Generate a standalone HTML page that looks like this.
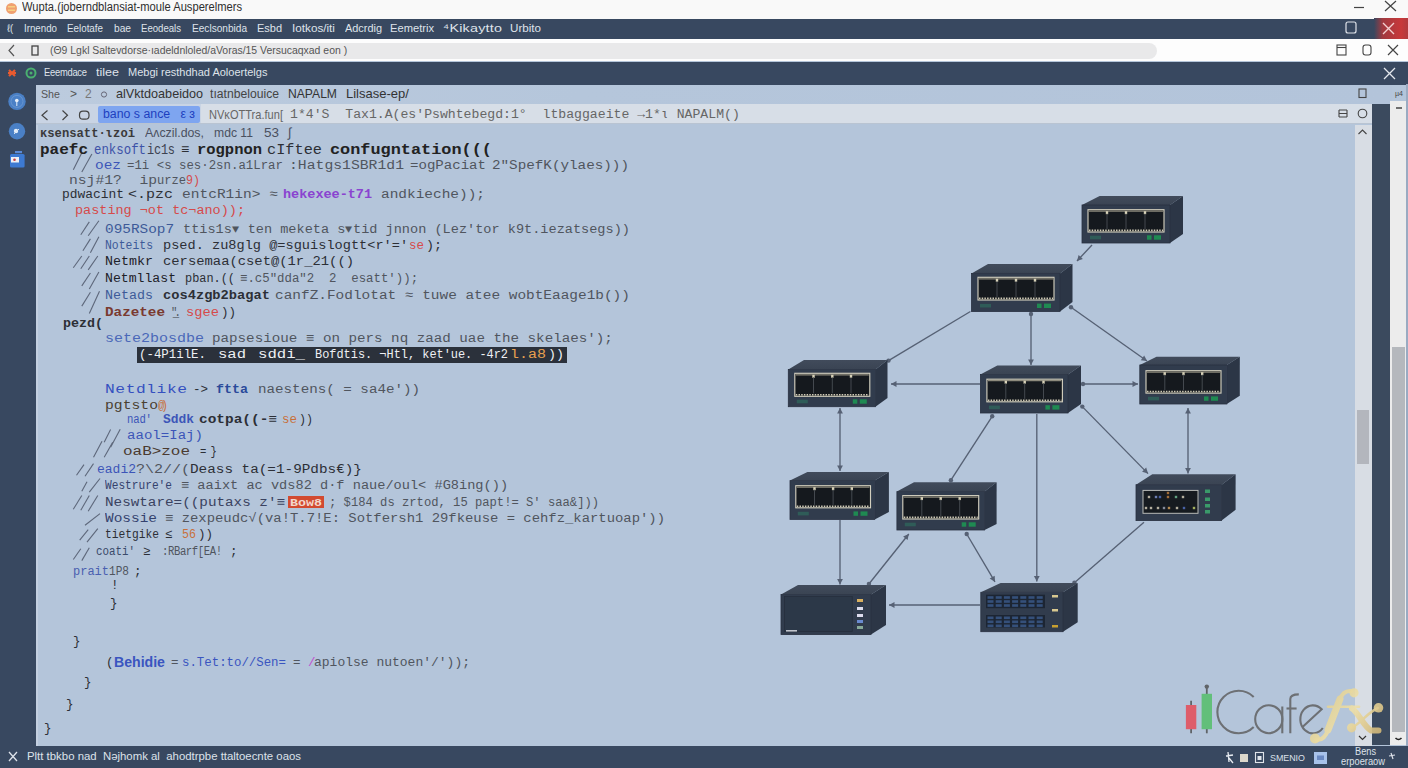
<!DOCTYPE html>
<html><head><meta charset="utf-8">
<style>
*{margin:0;padding:0;box-sizing:border-box}
html,body{width:1408px;height:768px;overflow:hidden;background:#b4c5da;font-family:"Liberation Sans",sans-serif}
.a{position:absolute}
.t{position:absolute;white-space:pre;line-height:1}
#title{left:0;top:0;width:1408px;height:19px;background:#f9f9f9}
#menu{left:0;top:19px;width:1408px;height:20px;background:#384860}
#addr{left:0;top:39px;width:1408px;height:22px;background:#fdfdfd}
#pill{left:0;top:43px;width:1157px;height:16px;background:#e9e9ea;border-radius:0 8px 8px 0}
#dark2{left:0;top:62px;width:1408px;height:23px;background:#384860}
#side{left:0;top:84px;width:36px;height:662px;background:#384860}
#crumb{left:36px;top:85px;width:1356px;height:19px;background:linear-gradient(90deg,#bccbde,#b5c6db 40%,#b3c4da)}
#tabs{left:36px;top:104px;width:1336px;height:20px;background:#d7dee7;border-bottom:1px solid #b9c4d2}
#tabsL{left:36px;top:104px;width:165px;height:19px;background:#c9d4e4}
#tab1{left:98px;top:105.5px;width:102px;height:17.5px;background:#7ea5f0;border-radius:2px}
#editor{left:36px;top:124px;width:1319px;height:622px;background:#b4c5da}
#trackL{left:1355px;top:125px;width:17px;height:621px;background:#d8dde4}
#thumbL{left:1357px;top:410px;width:12px;height:54px;background:#b3b6bd}
#band{left:1372px;top:104px;width:18px;height:641px;background:#3b4a5e}
#trackR{left:1390px;top:101px;width:16px;height:644px;background:#ececec}
#thumbR{left:1392px;top:347px;width:13px;height:385px;background:#b5b8bd}
#edgeR{left:1406px;top:84px;width:2px;height:662px;background:#9aabc2}
#status{left:0;top:746px;width:1408px;height:22px;background:#384860}
#ledge{left:36px;top:125px;width:2px;height:621px;background:#c3cfe0}
#hl{left:137px;top:347px;width:430px;height:16px;background:#2b313b}
#redbox{left:288px;top:496px;width:36px;height:12px;background:#d24a30}
svg{position:absolute;left:0;top:0}
</style></head><body>
<div id="title" class="a"></div>
<div id="menu" class="a"></div>
<div id="addr" class="a"></div>
<div id="pill" class="a"></div>
<div id="dark2" class="a"></div>
<div id="side" class="a"></div>
<div id="crumb" class="a"></div>
<div id="tabs" class="a"></div>
<div id="tabsL" class="a"></div>
<div id="tab1" class="a"></div>
<div id="editor" class="a"></div>
<div id="trackL" class="a"></div>
<div id="thumbL" class="a"></div>
<div id="band" class="a"></div>
<div id="trackR" class="a"></div>
<div id="thumbR" class="a"></div>
<div id="edgeR" class="a"></div>
<div id="status" class="a"></div>
<div id="ledge" class="a"></div>
<div id="hl" class="a"></div>
<div id="redbox" class="a"></div>
<svg width="1408" height="768" viewBox="0 0 1408 768">
<defs><linearGradient id="gold" gradientUnits="userSpaceOnUse" x1="1310" y1="688" x2="1385" y2="745"><stop offset="0" stop-color="#d8c483"/><stop offset="0.5" stop-color="#efe0a8"/><stop offset="1" stop-color="#c8aa68"/></linearGradient><linearGradient id="topf" x1="0" y1="0" x2="0" y2="1"><stop offset="0" stop-color="#414b5b"/><stop offset="1" stop-color="#3a4453"/></linearGradient></defs>
<line x1="73.3" y1="169.8" x2="81.8" y2="152.8" stroke="#5d677a" stroke-width="1.1"/>
<line x1="81.8" y1="172" x2="91.9" y2="153.9" stroke="#5d677a" stroke-width="1.1"/>
<line x1="80.8" y1="234.7" x2="89.3" y2="221.9" stroke="#5d677a" stroke-width="1.1"/>
<line x1="88.2" y1="235.7" x2="98.9" y2="220.8" stroke="#5d677a" stroke-width="1.1"/>
<line x1="82.9" y1="250.7" x2="90.4" y2="238.9" stroke="#5d677a" stroke-width="1.1"/>
<line x1="90.4" y1="252.8" x2="98.9" y2="236.8" stroke="#5d677a" stroke-width="1.1"/>
<line x1="73.3" y1="267.7" x2="81.8" y2="256" stroke="#5d677a" stroke-width="1.1"/>
<line x1="80.8" y1="268.8" x2="89.3" y2="256" stroke="#5d677a" stroke-width="1.1"/>
<line x1="88.2" y1="269.9" x2="97.8" y2="256" stroke="#5d677a" stroke-width="1.1"/>
<line x1="81.8" y1="285.9" x2="90.4" y2="273" stroke="#5d677a" stroke-width="1.1"/>
<line x1="89.3" y1="289.1" x2="98.9" y2="272" stroke="#5d677a" stroke-width="1.1"/>
<line x1="81.8" y1="306.1" x2="90.4" y2="292.3" stroke="#5d677a" stroke-width="1.1"/>
<line x1="89.3" y1="313.5" x2="99.5" y2="291.2" stroke="#5d677a" stroke-width="1.1"/>
<line x1="104.2" y1="442.2" x2="110.6" y2="429.5" stroke="#5d677a" stroke-width="1.1"/>
<line x1="110.6" y1="447.2" x2="120.2" y2="429.2" stroke="#5d677a" stroke-width="1.1"/>
<line x1="93.5" y1="457.2" x2="102" y2="441.2" stroke="#5d677a" stroke-width="1.1"/>
<line x1="104.2" y1="457.2" x2="112.7" y2="442.2" stroke="#5d677a" stroke-width="1.1"/>
<line x1="76.5" y1="475.2" x2="84" y2="464.6" stroke="#5d677a" stroke-width="1.1"/>
<line x1="85" y1="476.2" x2="93.5" y2="463.6" stroke="#5d677a" stroke-width="1.1"/>
<line x1="81.8" y1="491.2" x2="87" y2="481.7" stroke="#5d677a" stroke-width="1.1"/>
<line x1="89.3" y1="492.2" x2="100" y2="478.5" stroke="#5d677a" stroke-width="1.1"/>
<line x1="73.3" y1="509.2" x2="81.8" y2="495.5" stroke="#5d677a" stroke-width="1.1"/>
<line x1="80.8" y1="510.2" x2="89.3" y2="495.5" stroke="#5d677a" stroke-width="1.1"/>
<line x1="88.2" y1="511.2" x2="97.8" y2="495.5" stroke="#5d677a" stroke-width="1.1"/>
<line x1="85" y1="525.2" x2="100" y2="513.6" stroke="#5d677a" stroke-width="1.1"/>
<line x1="79.7" y1="540.2" x2="88.2" y2="529.6" stroke="#5d677a" stroke-width="1.1"/>
<line x1="87" y1="542.2" x2="97.8" y2="528.6" stroke="#5d677a" stroke-width="1.1"/>
<line x1="73.3" y1="559.5" x2="80.8" y2="548.8" stroke="#5d677a" stroke-width="1.1"/>
<line x1="81.8" y1="560.6" x2="89.3" y2="547.8" stroke="#5d677a" stroke-width="1.1"/>
<line x1="1092" y1="245" x2="1077" y2="261" stroke="#566174" stroke-width="1.35"/>
<polygon points="1077.0,261.0 1078.6,255.0 1082.9,259.0" fill="#566174"/>
<line x1="970.4" y1="311.5" x2="888.5" y2="360.6" stroke="#566174" stroke-width="1.35"/>
<circle cx="888.5" cy="360.6" r="2.2" fill="#566174"/>
<line x1="1031" y1="314" x2="1031" y2="365" stroke="#566174" stroke-width="1.35"/>
<polygon points="1031.0,365.0 1028.1,359.5 1033.9,359.5" fill="#566174"/>
<circle cx="1031" cy="314" r="2.2" fill="#566174"/>
<line x1="1071" y1="307.3" x2="1147" y2="361" stroke="#566174" stroke-width="1.35"/>
<polygon points="1147.0,361.0 1140.8,360.2 1144.2,355.5" fill="#566174"/>
<circle cx="1071" cy="307.3" r="2.2" fill="#566174"/>
<line x1="980" y1="384" x2="891" y2="384" stroke="#566174" stroke-width="1.35"/>
<polygon points="891.0,384.0 896.5,381.1 896.5,386.9" fill="#566174"/>
<line x1="1083" y1="384" x2="1138" y2="384" stroke="#566174" stroke-width="1.35"/>
<polygon points="1138.0,384.0 1132.5,386.9 1132.5,381.1" fill="#566174"/>
<circle cx="1083" cy="384" r="2.2" fill="#566174"/>
<line x1="840" y1="408" x2="840" y2="471" stroke="#566174" stroke-width="1.35"/>
<polygon points="840.0,471.0 837.1,465.5 842.9,465.5" fill="#566174"/>
<polygon points="840.0,408.0 842.9,413.5 837.1,413.5" fill="#566174"/>
<line x1="992.2" y1="416.3" x2="950.9" y2="480.2" stroke="#566174" stroke-width="1.35"/>
<circle cx="992.2" cy="416.3" r="2.2" fill="#566174"/>
<circle cx="950.9" cy="480.2" r="2.2" fill="#566174"/>
<line x1="1036.8" y1="414" x2="1036.8" y2="581.5" stroke="#566174" stroke-width="1.35"/>
<polygon points="1036.8,581.5 1033.9,576.0 1039.7,576.0" fill="#566174"/>
<line x1="1082.3" y1="406.6" x2="1148" y2="473.6" stroke="#566174" stroke-width="1.35"/>
<polygon points="1148.0,473.6 1142.1,471.7 1146.2,467.6" fill="#566174"/>
<circle cx="1082.3" cy="406.6" r="2.2" fill="#566174"/>
<line x1="1188" y1="408" x2="1188" y2="473.5" stroke="#566174" stroke-width="1.35"/>
<polygon points="1188.0,473.5 1185.1,468.0 1190.9,468.0" fill="#566174"/>
<polygon points="1188.0,408.0 1190.9,413.5 1185.1,413.5" fill="#566174"/>
<line x1="840" y1="520" x2="840" y2="584.5" stroke="#566174" stroke-width="1.35"/>
<polygon points="840.0,584.5 837.1,579.0 842.9,579.0" fill="#566174"/>
<line x1="908.8" y1="534" x2="868.9" y2="584" stroke="#566174" stroke-width="1.35"/>
<polygon points="908.8,534.0 907.6,540.1 903.1,536.5" fill="#566174"/>
<circle cx="868.9" cy="584" r="2.2" fill="#566174"/>
<line x1="966.7" y1="534" x2="995" y2="581.9" stroke="#566174" stroke-width="1.35"/>
<polygon points="995.0,581.9 989.7,578.6 994.7,575.7" fill="#566174"/>
<circle cx="966.7" cy="534" r="2.2" fill="#566174"/>
<line x1="1144" y1="522.2" x2="1074.4" y2="582.7" stroke="#566174" stroke-width="1.35"/>
<circle cx="1074.4" cy="582.7" r="2.2" fill="#566174"/>
<line x1="980" y1="605" x2="889" y2="605" stroke="#566174" stroke-width="1.35"/>
<polygon points="889.0,605.0 894.5,602.1 894.5,607.9" fill="#566174"/>
<polygon points="1082,205 1099.6,196 1183,196 1170,205" fill="url(#topf)"/>
<polygon points="1170,205 1183,196 1183,234 1170,243" fill="#2c3646"/>
<rect x="1082" y="205" width="88.0" height="38.0" fill="#313c4d" stroke="#283040" stroke-width="0.8"/>
<rect x="1088" y="209.7" width="76.0" height="22.3" fill="#15191e" stroke="#d2cebe" stroke-width="1.15"/>
<line x1="1089" y1="230.4" x2="1163" y2="230.4" stroke="#cfcab6" stroke-width="1.6" stroke-dasharray="1.5 1.2"/>
<line x1="1089" y1="211.2" x2="1163" y2="211.2" stroke="#8d8a7c" stroke-width="1.2"/>
<rect x="1105.8" y="211.2" width="2.4" height="3" fill="#d8d2b8"/>
<line x1="1107.0" y1="213.7" x2="1107.0" y2="229" stroke="#4a4f55" stroke-width="0.9"/>
<rect x="1124.8" y="211.2" width="2.4" height="3" fill="#d8d2b8"/>
<line x1="1126.0" y1="213.7" x2="1126.0" y2="229" stroke="#4a4f55" stroke-width="0.9"/>
<rect x="1143.8" y="211.2" width="2.4" height="3" fill="#d8d2b8"/>
<line x1="1145.0" y1="213.7" x2="1145.0" y2="229" stroke="#4a4f55" stroke-width="0.9"/>
<rect x="1090.0" y="235.7" width="11" height="3.6" fill="#2f6a5c" opacity="0.7"/>
<rect x="1147.0" y="235.3" width="4.5" height="4.4" fill="#1f8a52"/>
<rect x="1154.0" y="235.3" width="7" height="4.4" fill="#1f8a52"/>
<polygon points="971.5,273.4 988,264 1072.5,264 1060,273.4" fill="url(#topf)"/>
<polygon points="1060,273.4 1072.5,264 1072.5,302 1060,311.5" fill="#2c3646"/>
<rect x="971.5" y="273.4" width="88.5" height="38.1" fill="#313c4d" stroke="#283040" stroke-width="0.8"/>
<rect x="978" y="277.3" width="76.0" height="22.7" fill="#15191e" stroke="#d2cebe" stroke-width="1.15"/>
<line x1="979" y1="298.4" x2="1053" y2="298.4" stroke="#cfcab6" stroke-width="1.6" stroke-dasharray="1.5 1.2"/>
<line x1="979" y1="278.8" x2="1053" y2="278.8" stroke="#8d8a7c" stroke-width="1.2"/>
<rect x="995.8" y="278.8" width="2.4" height="3" fill="#d8d2b8"/>
<line x1="997.0" y1="281.3" x2="997.0" y2="297" stroke="#4a4f55" stroke-width="0.9"/>
<rect x="1014.8" y="278.8" width="2.4" height="3" fill="#d8d2b8"/>
<line x1="1016.0" y1="281.3" x2="1016.0" y2="297" stroke="#4a4f55" stroke-width="0.9"/>
<rect x="1033.8" y="278.8" width="2.4" height="3" fill="#d8d2b8"/>
<line x1="1035.0" y1="281.3" x2="1035.0" y2="297" stroke="#4a4f55" stroke-width="0.9"/>
<rect x="980.0" y="303.9" width="11" height="3.6" fill="#2f6a5c" opacity="0.7"/>
<rect x="1037.0" y="303.6" width="4.5" height="4.4" fill="#1f8a52"/>
<rect x="1044.0" y="303.6" width="7" height="4.4" fill="#1f8a52"/>
<polygon points="788.3,369.5 804,360 887.5,360 875.5,369.5" fill="url(#topf)"/>
<polygon points="875.5,369.5 887.5,360 887.5,398 875.5,406.7" fill="#2c3646"/>
<rect x="788.3" y="369.5" width="87.2" height="37.2" fill="#313c4d" stroke="#283040" stroke-width="0.8"/>
<rect x="794.8" y="373.3" width="75.0" height="23.0" fill="#15191e" stroke="#d2cebe" stroke-width="1.15"/>
<line x1="795.8" y1="394.7" x2="868.8" y2="394.7" stroke="#cfcab6" stroke-width="1.6" stroke-dasharray="1.5 1.2"/>
<line x1="795.8" y1="374.8" x2="868.8" y2="374.8" stroke="#8d8a7c" stroke-width="1.2"/>
<rect x="812.3" y="374.8" width="2.4" height="3" fill="#d8d2b8"/>
<line x1="813.5" y1="377.3" x2="813.5" y2="393.3" stroke="#4a4f55" stroke-width="0.9"/>
<rect x="831.1" y="374.8" width="2.4" height="3" fill="#d8d2b8"/>
<line x1="832.3" y1="377.3" x2="832.3" y2="393.3" stroke="#4a4f55" stroke-width="0.9"/>
<rect x="849.8" y="374.8" width="2.4" height="3" fill="#d8d2b8"/>
<line x1="851.0" y1="377.3" x2="851.0" y2="393.3" stroke="#4a4f55" stroke-width="0.9"/>
<rect x="796.8" y="399.7" width="11" height="3.6" fill="#2f6a5c" opacity="0.7"/>
<rect x="852.8" y="399.3" width="4.5" height="4.4" fill="#1f8a52"/>
<rect x="859.8" y="399.3" width="7" height="4.4" fill="#1f8a52"/>
<polygon points="980.4,374.5 997.3,365.4 1081,365.4 1068,374.5" fill="url(#topf)"/>
<polygon points="1068,374.5 1081,365.4 1081,404 1068,413" fill="#2c3646"/>
<rect x="980.4" y="374.5" width="87.6" height="38.5" fill="#313c4d" stroke="#283040" stroke-width="0.8"/>
<rect x="986.9" y="379.2" width="75.5" height="22.6" fill="#15191e" stroke="#d2cebe" stroke-width="1.15"/>
<line x1="987.9" y1="400.2" x2="1061.4" y2="400.2" stroke="#cfcab6" stroke-width="1.6" stroke-dasharray="1.5 1.2"/>
<line x1="987.9" y1="380.7" x2="1061.4" y2="380.7" stroke="#8d8a7c" stroke-width="1.2"/>
<rect x="1004.6" y="380.7" width="2.4" height="3" fill="#d8d2b8"/>
<line x1="1005.8" y1="383.2" x2="1005.8" y2="398.8" stroke="#4a4f55" stroke-width="0.9"/>
<rect x="1023.5" y="380.7" width="2.4" height="3" fill="#d8d2b8"/>
<line x1="1024.7" y1="383.2" x2="1024.7" y2="398.8" stroke="#4a4f55" stroke-width="0.9"/>
<rect x="1042.3" y="380.7" width="2.4" height="3" fill="#d8d2b8"/>
<line x1="1043.5" y1="383.2" x2="1043.5" y2="398.8" stroke="#4a4f55" stroke-width="0.9"/>
<rect x="988.9" y="405.6" width="11" height="3.6" fill="#2f6a5c" opacity="0.7"/>
<rect x="1045.4" y="405.2" width="4.5" height="4.4" fill="#1f8a52"/>
<rect x="1052.4" y="405.2" width="7" height="4.4" fill="#1f8a52"/>
<polygon points="1139.8,365 1156.5,356.7 1239.8,356.7 1226.8,365" fill="url(#topf)"/>
<polygon points="1226.8,365 1239.8,356.7 1239.8,395.7 1226.8,404" fill="#2c3646"/>
<rect x="1139.8" y="365" width="87.0" height="39.0" fill="#313c4d" stroke="#283040" stroke-width="0.8"/>
<rect x="1146" y="370.7" width="75.0" height="22.4" fill="#15191e" stroke="#d2cebe" stroke-width="1.15"/>
<line x1="1147" y1="391.5" x2="1220" y2="391.5" stroke="#cfcab6" stroke-width="1.6" stroke-dasharray="1.5 1.2"/>
<line x1="1147" y1="372.2" x2="1220" y2="372.2" stroke="#8d8a7c" stroke-width="1.2"/>
<rect x="1163.5" y="372.2" width="2.4" height="3" fill="#d8d2b8"/>
<line x1="1164.8" y1="374.7" x2="1164.8" y2="390.1" stroke="#4a4f55" stroke-width="0.9"/>
<rect x="1182.3" y="372.2" width="2.4" height="3" fill="#d8d2b8"/>
<line x1="1183.5" y1="374.7" x2="1183.5" y2="390.1" stroke="#4a4f55" stroke-width="0.9"/>
<rect x="1201.0" y="372.2" width="2.4" height="3" fill="#d8d2b8"/>
<line x1="1202.2" y1="374.7" x2="1202.2" y2="390.1" stroke="#4a4f55" stroke-width="0.9"/>
<rect x="1148.0" y="396.8" width="11" height="3.6" fill="#2f6a5c" opacity="0.7"/>
<rect x="1204.0" y="396.4" width="4.5" height="4.4" fill="#1f8a52"/>
<rect x="1211.0" y="396.4" width="7" height="4.4" fill="#1f8a52"/>
<polygon points="790,480.6 807.4,472 888.9,472 874.7,480.6" fill="url(#topf)"/>
<polygon points="874.7,480.6 888.9,472 888.9,512 874.7,519.4" fill="#2c3646"/>
<rect x="790" y="480.6" width="84.7" height="38.8" fill="#313c4d" stroke="#283040" stroke-width="0.8"/>
<rect x="795.8" y="485.7" width="74.7" height="22.1" fill="#15191e" stroke="#d2cebe" stroke-width="1.15"/>
<line x1="796.8" y1="506.2" x2="869.5" y2="506.2" stroke="#cfcab6" stroke-width="1.6" stroke-dasharray="1.5 1.2"/>
<line x1="796.8" y1="487.2" x2="869.5" y2="487.2" stroke="#8d8a7c" stroke-width="1.2"/>
<rect x="813.3" y="487.2" width="2.4" height="3" fill="#d8d2b8"/>
<line x1="814.5" y1="489.7" x2="814.5" y2="504.8" stroke="#4a4f55" stroke-width="0.9"/>
<rect x="831.9" y="487.2" width="2.4" height="3" fill="#d8d2b8"/>
<line x1="833.1" y1="489.7" x2="833.1" y2="504.8" stroke="#4a4f55" stroke-width="0.9"/>
<rect x="850.6" y="487.2" width="2.4" height="3" fill="#d8d2b8"/>
<line x1="851.8" y1="489.7" x2="851.8" y2="504.8" stroke="#4a4f55" stroke-width="0.9"/>
<rect x="797.8" y="511.8" width="11" height="3.6" fill="#2f6a5c" opacity="0.7"/>
<rect x="853.5" y="511.4" width="4.5" height="4.4" fill="#1f8a52"/>
<rect x="860.5" y="511.4" width="7" height="4.4" fill="#1f8a52"/>
<polygon points="896.9,491.6 914,482.3 996.6,482.3 984.6,491.6" fill="url(#topf)"/>
<polygon points="984.6,491.6 996.6,482.3 996.6,524 984.6,530" fill="#2c3646"/>
<rect x="896.9" y="491.6" width="87.7" height="38.4" fill="#313c4d" stroke="#283040" stroke-width="0.8"/>
<rect x="902.8" y="495.6" width="75.9" height="23.4" fill="#15191e" stroke="#d2cebe" stroke-width="1.15"/>
<line x1="903.8" y1="517.4" x2="977.7" y2="517.4" stroke="#cfcab6" stroke-width="1.6" stroke-dasharray="1.5 1.2"/>
<line x1="903.8" y1="497.1" x2="977.7" y2="497.1" stroke="#8d8a7c" stroke-width="1.2"/>
<rect x="920.6" y="497.1" width="2.4" height="3" fill="#d8d2b8"/>
<line x1="921.8" y1="499.6" x2="921.8" y2="516" stroke="#4a4f55" stroke-width="0.9"/>
<rect x="939.5" y="497.1" width="2.4" height="3" fill="#d8d2b8"/>
<line x1="940.8" y1="499.6" x2="940.8" y2="516" stroke="#4a4f55" stroke-width="0.9"/>
<rect x="958.5" y="497.1" width="2.4" height="3" fill="#d8d2b8"/>
<line x1="959.7" y1="499.6" x2="959.7" y2="516" stroke="#4a4f55" stroke-width="0.9"/>
<rect x="904.8" y="522.7" width="11" height="3.6" fill="#2f6a5c" opacity="0.7"/>
<rect x="961.7" y="522.3" width="4.5" height="4.4" fill="#1f8a52"/>
<rect x="968.7" y="522.3" width="7" height="4.4" fill="#1f8a52"/>
<polygon points="1136,484.7 1152.3,474.3 1235.6,474.3 1221.6,484.7" fill="url(#topf)"/>
<polygon points="1221.6,484.7 1235.6,474.3 1235.6,509.7 1221.6,520.6" fill="#2c3646"/>
<rect x="1136" y="484.7" width="85.6" height="35.9" fill="#313c4d" stroke="#283040" stroke-width="0.8"/>
<rect x="1143" y="490.4" width="55" height="22.9" fill="#161b20" stroke="#b9bcb8" stroke-width="1"/>
<rect x="1147.8" y="495.8" width="2.4" height="2.4" fill="#e8e0c8" opacity="0.75"/>
<rect x="1154.8" y="495.8" width="2.4" height="2.4" fill="#8aa0e0" opacity="0.75"/>
<rect x="1158.8" y="495.8" width="2.4" height="2.4" fill="#5a7ad0" opacity="0.75"/>
<rect x="1166.8" y="491.8" width="2.4" height="2.4" fill="#d08a40" opacity="0.75"/>
<rect x="1166.8" y="495.8" width="2.4" height="2.4" fill="#d08a40" opacity="0.75"/>
<rect x="1174.8" y="495.8" width="2.4" height="2.4" fill="#7ad0a0" opacity="0.75"/>
<rect x="1181.8" y="495.8" width="2.4" height="2.4" fill="#e8e0c8" opacity="0.75"/>
<rect x="1144.8" y="506.8" width="2.4" height="2.4" fill="#e8e0c8" opacity="0.75"/>
<rect x="1149.8" y="506.8" width="2.4" height="2.4" fill="#e8e0c8" opacity="0.75"/>
<rect x="1156.8" y="506.8" width="2.4" height="2.4" fill="#e8e0c8" opacity="0.75"/>
<rect x="1162.8" y="506.8" width="2.4" height="2.4" fill="#aab0c0" opacity="0.75"/>
<rect x="1167.8" y="506.8" width="2.4" height="2.4" fill="#e8b060" opacity="0.75"/>
<rect x="1175.8" y="506.8" width="2.4" height="2.4" fill="#e8e0c8" opacity="0.75"/>
<rect x="1182.8" y="506.8" width="2.4" height="2.4" fill="#5a7ad0" opacity="0.75"/>
<rect x="1192.8" y="506.8" width="2.4" height="2.4" fill="#d0e070" opacity="0.75"/>
<rect x="1205" y="489.5" width="5" height="3.5" fill="#3a9a6a"/>
<rect x="1205" y="497.5" width="5" height="3.5" fill="#3a9a6a"/>
<rect x="1205" y="504" width="5" height="3.5" fill="#3a9a6a"/>
<rect x="1205" y="510" width="5" height="3.5" fill="#3a9a6a"/>
<polygon points="781,594.5 798,585 886,585 871,594.5" fill="url(#topf)"/>
<polygon points="871,594.5 886,585 886,625 871,634.6" fill="#2c3646"/>
<rect x="781" y="594.5" width="90.0" height="40.1" fill="#313c4d" stroke="#283040" stroke-width="0.8"/>
<rect x="784.6" y="596.6" width="67.7" height="35" fill="#2c3848" stroke="#262f3c" stroke-width="0.8"/>
<rect x="786" y="630" width="11" height="1.6" fill="#c0c4cc"/>
<rect x="857" y="599" width="6" height="3" fill="#d8b060"/>
<rect x="857" y="607" width="6" height="3" fill="#dde"/>
<rect x="857" y="614" width="6" height="3" fill="#dde"/>
<rect x="857" y="620" width="6" height="3" fill="#6a8ad0"/>
<rect x="857" y="626" width="6" height="3" fill="#8a9"/>
<polygon points="980.8,592.3 1000.6,583 1077.7,583 1063,592.3" fill="url(#topf)"/>
<polygon points="1063,592.3 1077.7,583 1077.7,622.3 1063,631.7" fill="#2c3646"/>
<rect x="980.8" y="592.3" width="82.2" height="39.4" fill="#313c4d" stroke="#283040" stroke-width="0.8"/>
<rect x="986" y="594.7" width="59" height="13.5" fill="#1c2533"/>
<rect x="987.5" y="596.2" width="6" height="2.6" fill="#35507a"/>
<rect x="987.5" y="600.2" width="6" height="2.6" fill="#35507a"/>
<rect x="987.5" y="604.2" width="6" height="2.6" fill="#35507a"/>
<rect x="995.7" y="596.2" width="6" height="2.6" fill="#35507a"/>
<rect x="995.7" y="600.2" width="6" height="2.6" fill="#35507a"/>
<rect x="995.7" y="604.2" width="6" height="2.6" fill="#35507a"/>
<rect x="1003.9" y="596.2" width="6" height="2.6" fill="#35507a"/>
<rect x="1003.9" y="600.2" width="6" height="2.6" fill="#35507a"/>
<rect x="1003.9" y="604.2" width="6" height="2.6" fill="#35507a"/>
<rect x="1012.1" y="596.2" width="6" height="2.6" fill="#35507a"/>
<rect x="1012.1" y="600.2" width="6" height="2.6" fill="#35507a"/>
<rect x="1012.1" y="604.2" width="6" height="2.6" fill="#35507a"/>
<rect x="1020.3" y="596.2" width="6" height="2.6" fill="#35507a"/>
<rect x="1020.3" y="600.2" width="6" height="2.6" fill="#35507a"/>
<rect x="1020.3" y="604.2" width="6" height="2.6" fill="#35507a"/>
<rect x="1028.5" y="596.2" width="6" height="2.6" fill="#35507a"/>
<rect x="1028.5" y="600.2" width="6" height="2.6" fill="#35507a"/>
<rect x="1028.5" y="604.2" width="6" height="2.6" fill="#35507a"/>
<rect x="1036.7" y="596.2" width="6" height="2.6" fill="#35507a"/>
<rect x="1036.7" y="600.2" width="6" height="2.6" fill="#35507a"/>
<rect x="1036.7" y="604.2" width="6" height="2.6" fill="#35507a"/>
<rect x="986" y="615" width="59" height="12.5" fill="#1c2533"/>
<rect x="987.5" y="616.5" width="6" height="2.6" fill="#35507a"/>
<rect x="987.5" y="620.5" width="6" height="2.6" fill="#35507a"/>
<rect x="987.5" y="624.5" width="6" height="2.6" fill="#35507a"/>
<rect x="995.7" y="616.5" width="6" height="2.6" fill="#35507a"/>
<rect x="995.7" y="620.5" width="6" height="2.6" fill="#35507a"/>
<rect x="995.7" y="624.5" width="6" height="2.6" fill="#35507a"/>
<rect x="1003.9" y="616.5" width="6" height="2.6" fill="#35507a"/>
<rect x="1003.9" y="620.5" width="6" height="2.6" fill="#35507a"/>
<rect x="1003.9" y="624.5" width="6" height="2.6" fill="#35507a"/>
<rect x="1012.1" y="616.5" width="6" height="2.6" fill="#35507a"/>
<rect x="1012.1" y="620.5" width="6" height="2.6" fill="#35507a"/>
<rect x="1012.1" y="624.5" width="6" height="2.6" fill="#35507a"/>
<rect x="1020.3" y="616.5" width="6" height="2.6" fill="#35507a"/>
<rect x="1020.3" y="620.5" width="6" height="2.6" fill="#35507a"/>
<rect x="1020.3" y="624.5" width="6" height="2.6" fill="#35507a"/>
<rect x="1028.5" y="616.5" width="6" height="2.6" fill="#35507a"/>
<rect x="1028.5" y="620.5" width="6" height="2.6" fill="#35507a"/>
<rect x="1028.5" y="624.5" width="6" height="2.6" fill="#35507a"/>
<rect x="1036.7" y="616.5" width="6" height="2.6" fill="#35507a"/>
<rect x="1036.7" y="620.5" width="6" height="2.6" fill="#35507a"/>
<rect x="1036.7" y="624.5" width="6" height="2.6" fill="#35507a"/>
<rect x="1052" y="595" width="6" height="2.5" fill="#d8c890"/>
<rect x="1052" y="609" width="6" height="2.5" fill="#d8c890"/>
<rect x="1052" y="625" width="6" height="2.5" fill="#c8a030"/>
<line x1="1191.1" y1="700.8" x2="1191.1" y2="733.3" stroke="#606468" stroke-width="1.8"/>
<rect x="1185.9" y="705" width="10.4" height="24.2" fill="#de5d6a"/>
<line x1="1206.8" y1="688" x2="1206.8" y2="733.3" stroke="#606468" stroke-width="1.8"/>
<circle cx="1206.8" cy="686.6" r="2.2" fill="#606468"/>
<rect x="1201.6" y="693.8" width="10.4" height="35.4" fill="#62bf7a"/>
<path d="M1253.7,696.9 A21.3,21.3 0 1 0 1253.7,727.1" fill="none" stroke="#6d7074" stroke-width="2.1"/>
<ellipse cx="1268.8" cy="719.2" rx="13.6" ry="14" fill="none" stroke="#6d7074" stroke-width="2.1"/>
<line x1="1282.3" y1="706.5" x2="1282.3" y2="733.3" stroke="#6d7074" stroke-width="2.1"/>
<path d="M1290.3,733.3 L1290.3,699 Q1290.3,694.4 1298.8,694.4" fill="none" stroke="#6d7074" stroke-width="2.1"/>
<line x1="1286.5" y1="708.5" x2="1296.6" y2="708.5" stroke="#6d7074" stroke-width="2.1"/>
<path d="M1302.5,726.9 L1321.7,709.3 A12.6,14 0 1 0 1322.8,728" fill="none" stroke="#6d7074" stroke-width="2.1"/>
<g opacity="0.9" fill="none" stroke="url(#gold)" stroke-linecap="round"><path d="M1316,739.5 C1322,741 1326,736 1328.5,729" stroke-width="4"/><path d="M1328,730 L1340,699" stroke-width="7"/><path d="M1339.5,700 C1342,693 1346,690.5 1351,691" stroke-width="4"/><path d="M1328,706.8 L1359,706.8" stroke-width="2.6"/><path d="M1352,708.5 C1358,712 1364,727 1371,730.5 L1378.5,730.5" stroke-width="6"/><path d="M1378,708 C1368,712 1360,724 1351.5,728" stroke-width="2.5"/></g>
<g opacity="0.9" fill="url(#gold)"><circle cx="1354" cy="692.8" r="4.6"/><circle cx="1315" cy="738.5" r="5"/><circle cx="1378.5" cy="707.8" r="4.8"/><circle cx="1351.6" cy="727.8" r="4.6"/></g>
<circle cx="11.5" cy="8.5" r="5.5" fill="#f0a070"/><rect x="8" y="6" width="7" height="1.5" fill="#f6d080"/><rect x="8" y="9.5" width="7" height="1.5" fill="#f6d080"/>
<line x1="1354" y1="7.5" x2="1364" y2="7.5" stroke="#444" stroke-width="1.2"/>
<path d="M1385,1 L1396,11 M1396,1 L1385,11" stroke="#444" stroke-width="1.2"/>
<rect x="1346" y="22" width="10" height="11" rx="2" fill="none" stroke="#dfe3ea" stroke-width="1.2"/>
<rect x="1374" y="18" width="34" height="21" fill="url(#redg)"/>
<defs><linearGradient id="redg" x1="0" x2="1"><stop offset="0" stop-color="#384860"/><stop offset="0.25" stop-color="#a03a40"/><stop offset="0.8" stop-color="#c8383a"/><stop offset="1" stop-color="#b03a3e"/></linearGradient></defs>
<path d="M1383,23 L1394,34 M1394,23 L1383,34" stroke="#f4d0d0" stroke-width="1.4"/>
<path d="M14,45 L9,50.5 L14,56" fill="none" stroke="#555" stroke-width="1.2"/>
<rect x="32" y="46" width="6" height="9" fill="none" stroke="#444" stroke-width="1.3"/>
<rect x="1337" y="45" width="9" height="10" fill="none" stroke="#444" stroke-width="1.1"/><line x1="1337" y1="47.5" x2="1346" y2="47.5" stroke="#444" stroke-width="1.1"/>
<rect x="1363" y="45" width="8" height="10" rx="2.5" fill="none" stroke="#444" stroke-width="1.1"/>
<path d="M1388,45 L1398,55 M1398,45 L1388,55" stroke="#444" stroke-width="1.2"/>
<path d="M9,70 L15,76 M15,70 L9,76 M8,73 L16,73" stroke="#e85a30" stroke-width="2.2"/>
<circle cx="31" cy="73" r="4.5" fill="none" stroke="#4ab070" stroke-width="2"/><circle cx="31" cy="73" r="1.5" fill="#4ab070"/>
<path d="M1384,68 L1395,79 M1395,68 L1384,79" stroke="#e4e8ee" stroke-width="1.3"/>
<circle cx="17" cy="101.4" r="8.7" fill="#4a80c6"/><circle cx="17" cy="101.4" r="6" fill="none" stroke="#6e9ad2" stroke-width="0.8"/><circle cx="16.8" cy="100.5" r="1.8" fill="#e6eef8"/><line x1="16.8" y1="102" x2="16.8" y2="106" stroke="#d8e6f6" stroke-width="1.1"/>
<circle cx="17" cy="131.3" r="8.2" fill="#4a80c6"/><circle cx="16" cy="131" r="2.2" fill="#e6eef8"/><line x1="14" y1="134" x2="19" y2="129" stroke="#d8e6f6" stroke-width="1"/>
<rect x="10" y="154" width="14.6" height="13.6" rx="1.5" fill="#3d7ad2"/><rect x="11" y="157" width="8" height="5.5" fill="#eef0f4"/><circle cx="14.5" cy="159.7" r="1.3" fill="#c84040"/><rect x="15" y="151" width="7" height="2.2" fill="#5a8ad8"/>
<circle cx="104" cy="94.5" r="2.6" fill="none" stroke="#667" stroke-width="1"/>
<rect x="1359" y="89" width="7" height="8.5" fill="none" stroke="#444" stroke-width="1.1"/>
<text x="1395" y="96" font-family="Liberation Sans" font-size="7" fill="#444">µ4</text>
<rect x="79.5" y="111.2" width="9.5" height="8" rx="3.5" fill="none" stroke="#444" stroke-width="1.2"/>
<path d="M47.5,110.5 L42,115.2 L47.5,120" fill="none" stroke="#444" stroke-width="1.2"/>
<path d="M62.5,110.5 L67.5,115.2 L62.5,120" fill="none" stroke="#444" stroke-width="1.2"/>
<path d="M1339,110 L1347,110 M1339,113.5 L1347,113.5 M1339,117 L1347,117 M1339,110 L1339,117 M1347,110 L1347,117" stroke="#444" stroke-width="1.1" fill="none"/>
<circle cx="1362.5" cy="113.5" r="4.3" fill="none" stroke="#444" stroke-width="1.1"/>
<path d="M1358.5,134 L1362.5,130 L1366.5,134" stroke="#444" stroke-width="1.1" fill="none"/>
<path d="M1396,108 L1402,108" stroke="#444" stroke-width="1.5"/>
<path d="M1359,736 L1362.5,739.5 L1366,736" stroke="#333" stroke-width="1.2" fill="none"/>
<path d="M1395.5,738 Q1398.5,741 1401.5,738" stroke="#222" stroke-width="1.6" fill="none"/>
<path d="M9,752 L17,761 M17,752 L9,761" stroke="#dde2ea" stroke-width="1.3"/>
<path d="M1228,752 L1229,762 M1226,756 L1233,755 M1229,758 L1233,763" stroke="#e8ecf2" stroke-width="1.3" fill="none"/>
<rect x="1240" y="754" width="8" height="8" fill="#dcd8cc"/>
<rect x="1255.5" y="752.5" width="8" height="10" fill="none" stroke="#e0e4ea" stroke-width="1.1"/><rect x="1257.5" y="756" width="4" height="4" fill="#e0e4ea"/>
<rect x="1314" y="752" width="13" height="12" fill="#a8c2ea"/><rect x="1317" y="755.5" width="7" height="4.5" fill="#5070b0" opacity="0.7"/>
<path d="M1391,753 L1393,759 M1389,756 L1395,755" stroke="#dde2ea" stroke-width="1.2"/>
</svg>
<div class="t" style="left:22.0px;top:1.2px;font-family:'Liberation Sans';font-size:12.5px;font-weight:400;font-style:normal;color:#2e2e2e;letter-spacing:0.00px;transform:scaleX(0.893);transform-origin:0 0;">Wupta.(joberndblansiat-moule Ausperelmers</div>
<div class="t" style="left:7.0px;top:23.0px;font-family:'Liberation Sans';font-size:11px;font-weight:400;font-style:normal;color:#dfe3ea;letter-spacing:-0.16px;transform:scaleX(0.850);transform-origin:0 0;">ℓ(</div>
<div class="t" style="left:24.0px;top:23.0px;font-family:'Liberation Sans';font-size:11px;font-weight:400;font-style:normal;color:#dfe3ea;letter-spacing:0.00px;transform:scaleX(0.884);transform-origin:0 0;">Irnendo</div>
<div class="t" style="left:67.0px;top:23.0px;font-family:'Liberation Sans';font-size:11px;font-weight:400;font-style:normal;color:#dfe3ea;letter-spacing:0.00px;transform:scaleX(0.892);transform-origin:0 0;">Eelotafe</div>
<div class="t" style="left:114.0px;top:23.0px;font-family:'Liberation Sans';font-size:11px;font-weight:400;font-style:normal;color:#dfe3ea;letter-spacing:0.00px;transform:scaleX(0.926);transform-origin:0 0;">bae</div>
<div class="t" style="left:141.0px;top:23.0px;font-family:'Liberation Sans';font-size:11px;font-weight:400;font-style:normal;color:#dfe3ea;letter-spacing:0.00px;transform:scaleX(0.872);transform-origin:0 0;">Eeodeals</div>
<div class="t" style="left:192.0px;top:23.0px;font-family:'Liberation Sans';font-size:11px;font-weight:400;font-style:normal;color:#dfe3ea;letter-spacing:0.00px;transform:scaleX(0.918);transform-origin:0 0;">Eeclsonbida</div>
<div class="t" style="left:257.0px;top:23.0px;font-family:'Liberation Sans';font-size:11px;font-weight:400;font-style:normal;color:#dfe3ea;letter-spacing:0.00px;">Esbd</div>
<div class="t" style="left:292.0px;top:23.0px;font-family:'Liberation Sans';font-size:11px;font-weight:400;font-style:normal;color:#dfe3ea;letter-spacing:0.00px;transform:scaleX(1.065);transform-origin:0 0;">Iotkos/iti</div>
<div class="t" style="left:345.0px;top:23.0px;font-family:'Liberation Sans';font-size:11px;font-weight:400;font-style:normal;color:#dfe3ea;letter-spacing:0.00px;transform:scaleX(0.992);transform-origin:0 0;">Adcrdig</div>
<div class="t" style="left:390.0px;top:23.0px;font-family:'Liberation Sans';font-size:11px;font-weight:400;font-style:normal;color:#dfe3ea;letter-spacing:0.00px;transform:scaleX(1.014);transform-origin:0 0;">Eemetrix</div>
<div class="t" style="left:443.0px;top:23.0px;font-family:'Liberation Sans';font-size:11px;font-weight:400;font-style:normal;color:#dfe3ea;letter-spacing:0.19px;transform:scaleX(1.300);transform-origin:0 0;">⁴Kikaytto</div>
<div class="t" style="left:510.0px;top:23.0px;font-family:'Liberation Sans';font-size:11px;font-weight:400;font-style:normal;color:#dfe3ea;letter-spacing:0.00px;transform:scaleX(1.056);transform-origin:0 0;">Urbito</div>
<div class="t" style="left:50.0px;top:44.5px;font-family:'Liberation Sans';font-size:11px;font-weight:400;font-style:normal;color:#555;letter-spacing:0.00px;transform:scaleX(0.949);transform-origin:0 0;">(Θ9 Lgkl Saltevdorse·ıadeldnloled/aVoras/15 Versucaqxad eon )</div>
<div class="t" style="left:44.0px;top:67.0px;font-family:'Liberation Sans';font-size:11px;font-weight:400;font-style:normal;color:#dfe3ea;letter-spacing:-0.29px;transform:scaleX(0.850);transform-origin:0 0;">Eeemdace</div>
<div class="t" style="left:96.0px;top:67.0px;font-family:'Liberation Sans';font-size:11px;font-weight:400;font-style:normal;color:#dfe3ea;letter-spacing:0.00px;transform:scaleX(1.139);transform-origin:0 0;">tilee</div>
<div class="t" style="left:128.0px;top:67.0px;font-family:'Liberation Sans';font-size:11px;font-weight:400;font-style:normal;color:#dfe3ea;letter-spacing:0.00px;">Mebgi resthdhad Aoloertelgs</div>
<div class="t" style="left:41.0px;top:88.5px;font-family:'Liberation Sans';font-size:11px;font-weight:400;font-style:normal;color:#555;letter-spacing:0.00px;transform:scaleX(0.970);transform-origin:0 0;">She</div>
<div class="t" style="left:70.0px;top:87.5px;font-family:'Liberation Sans';font-size:12px;font-weight:400;font-style:normal;color:#555;letter-spacing:0.00px;">&gt;</div>
<div class="t" style="left:85.0px;top:87.5px;font-family:'Liberation Sans';font-size:12px;font-weight:400;font-style:normal;color:#777;letter-spacing:0.00px;">2</div>
<div class="t" style="left:116.0px;top:86.9px;font-family:'Liberation Sans';font-size:13px;font-weight:400;font-style:normal;color:#333;letter-spacing:0.00px;transform:scaleX(0.971);transform-origin:0 0;">alVktdoabeidoo</div>
<div class="t" style="left:210.0px;top:87.5px;font-family:'Liberation Sans';font-size:12px;font-weight:400;font-style:normal;color:#444;letter-spacing:0.00px;transform:scaleX(1.014);transform-origin:0 0;">tıatnbelouice</div>
<div class="t" style="left:288.0px;top:86.9px;font-family:'Liberation Sans';font-size:13px;font-weight:400;font-style:normal;color:#333;letter-spacing:0.00px;transform:scaleX(0.933);transform-origin:0 0;">NAPALM</div>
<div class="t" style="left:346.0px;top:86.9px;font-family:'Liberation Sans';font-size:13px;font-weight:400;font-style:normal;color:#333;letter-spacing:0.00px;">Lilsase-ep/</div>
<div class="t" style="left:103.0px;top:108.2px;font-family:'Liberation Sans';font-size:12px;font-weight:400;font-style:normal;color:#1d3fbf;letter-spacing:0.00px;transform:scaleX(1.027);transform-origin:0 0;">bano s ance   ε ɜ</div>
<div class="t" style="left:209.0px;top:107.6px;font-family:'Liberation Sans';font-size:13px;font-weight:400;font-style:normal;color:#666;letter-spacing:0.00px;transform:scaleX(0.851);transform-origin:0 0;">NVκOTTra.fun[</div>
<div class="t" style="left:290.0px;top:109.0px;font-family:'Liberation Mono';font-size:12.5px;font-weight:400;font-style:normal;color:#666;letter-spacing:0.00px;transform:scaleX(1.052);transform-origin:0 0;">1*4&#x27;S  Tax1.A(es&#x27;Pswhtebegd:1°  ltbaggaeite →1*ɩ NAPALM()</div>
<div class="t" style="left:27.0px;top:750.5px;font-family:'Liberation Sans';font-size:11px;font-weight:400;font-style:normal;color:#dde2ea;letter-spacing:0.00px;transform:scaleX(1.035);transform-origin:0 0;">Pltt tbkbo nad  Nəjhomk al  ahodtrpbe ttaltoecnte oaos</div>
<div class="t" style="left:1270.0px;top:754.2px;font-family:'Liberation Sans';font-size:9px;font-weight:400;font-style:normal;color:#dde2ea;letter-spacing:0.00px;transform:scaleX(0.985);transform-origin:0 0;">SMENIO</div>
<div class="t" style="left:1355.0px;top:747.1px;font-family:'Liberation Sans';font-size:10px;font-weight:400;font-style:normal;color:#dde2ea;letter-spacing:0.00px;transform:scaleX(0.921);transform-origin:0 0;">Bens</div>
<div class="t" style="left:1341.0px;top:757.1px;font-family:'Liberation Sans';font-size:10px;font-weight:400;font-style:normal;color:#dde2ea;letter-spacing:0.00px;transform:scaleX(0.931);transform-origin:0 0;">erpoeraow</div>
<div class="t" style="left:40.0px;top:128.0px;font-family:'Liberation Mono';font-size:12px;font-weight:700;font-style:normal;color:#3a3a3a;letter-spacing:0.00px;transform:scaleX(1.015);transform-origin:0 0;">ĸsensatt·ɩzoi</div>
<div class="t" style="left:145.0px;top:126.4px;font-family:'Liberation Sans';font-size:13px;font-weight:400;font-style:normal;color:#4a5060;letter-spacing:0.00px;transform:scaleX(0.949);transform-origin:0 0;">Aʌczil.dos,</div>
<div class="t" style="left:214.0px;top:126.4px;font-family:'Liberation Sans';font-size:13px;font-weight:400;font-style:normal;color:#4a5060;letter-spacing:0.00px;transform:scaleX(0.936);transform-origin:0 0;">mdc 11</div>
<div class="t" style="left:264.0px;top:126.4px;font-family:'Liberation Sans';font-size:13px;font-weight:400;font-style:normal;color:#4a5060;letter-spacing:-0.00px;transform:scaleX(1.037);transform-origin:0 0;">53</div>
<div class="t" style="left:288.0px;top:126.4px;font-family:'Liberation Sans';font-size:13px;font-weight:400;font-style:normal;color:#4a5060;letter-spacing:0.00px;">∫</div>
<div class="t" style="left:40.0px;top:142.5px;font-family:'Liberation Mono';font-size:14px;font-weight:700;font-style:normal;color:#222;letter-spacing:0.00px;transform:scaleX(1.142);transform-origin:0 0;">paefc</div>
<div class="t" style="left:94.0px;top:142.5px;font-family:'Liberation Mono';font-size:14px;font-weight:400;font-style:normal;color:#3d52a8;letter-spacing:0.00px;transform:scaleX(0.884);transform-origin:0 0;">enksoft</div>
<div class="t" style="left:147.0px;top:142.5px;font-family:'Liberation Mono';font-size:14px;font-weight:400;font-style:normal;color:#3c4250;letter-spacing:-0.22px;transform:scaleX(0.850);transform-origin:0 0;">ic1s</div>
<div class="t" style="left:181.0px;top:142.5px;font-family:'Liberation Mono';font-size:14px;font-weight:400;font-style:normal;color:#2c2f36;letter-spacing:0.00px;">≡</div>
<div class="t" style="left:197.0px;top:142.5px;font-family:'Liberation Mono';font-size:14px;font-weight:700;font-style:normal;color:#222;letter-spacing:0.00px;transform:scaleX(1.105);transform-origin:0 0;">rogpnon</div>
<div class="t" style="left:267.0px;top:142.5px;font-family:'Liberation Mono';font-size:14px;font-weight:400;font-style:normal;color:#2c2f36;letter-spacing:0.00px;transform:scaleX(1.091);transform-origin:0 0;">cIftee</div>
<div class="t" style="left:330.0px;top:142.5px;font-family:'Liberation Mono';font-size:14px;font-weight:700;font-style:normal;color:#222;letter-spacing:0.00px;transform:scaleX(1.205);transform-origin:0 0;">confugntation(((</div>
<div class="t" style="left:95.0px;top:159.8px;font-family:'Liberation Mono';font-size:12.5px;font-weight:400;font-style:normal;color:#3c55b8;letter-spacing:0.00px;transform:scaleX(1.155);transform-origin:0 0;">oez</div>
<div class="t" style="left:127.0px;top:159.8px;font-family:'Liberation Mono';font-size:12.5px;font-weight:400;font-style:normal;color:#50555e;letter-spacing:0.00px;transform:scaleX(0.990);transform-origin:0 0;">=1i &lt;s ses·2sn.a1Lrar</div>
<div class="t" style="left:289.0px;top:159.8px;font-family:'Liberation Mono';font-size:12.5px;font-weight:400;font-style:normal;color:#50555e;letter-spacing:0.00px;transform:scaleX(1.179);transform-origin:0 0;">:Hatgs1SBR1d1</div>
<div class="t" style="left:410.0px;top:159.8px;font-family:'Liberation Mono';font-size:12.5px;font-weight:400;font-style:normal;color:#50555e;letter-spacing:0.00px;transform:scaleX(1.126);transform-origin:0 0;">=ogPaciat</div>
<div class="t" style="left:492.0px;top:159.8px;font-family:'Liberation Mono';font-size:12.5px;font-weight:400;font-style:normal;color:#50555e;letter-spacing:0.00px;transform:scaleX(1.141);transform-origin:0 0;">2&quot;SpefK(ylaes)))</div>
<div class="t" style="left:69.0px;top:174.8px;font-family:'Liberation Mono';font-size:12.5px;font-weight:400;font-style:normal;color:#50555e;letter-spacing:0.00px;transform:scaleX(1.173);transform-origin:0 0;">nsj#1?  ip</div>
<div class="t" style="left:157.0px;top:174.8px;font-family:'Liberation Mono';font-size:12.5px;font-weight:400;font-style:normal;color:#50555e;letter-spacing:0.00px;transform:scaleX(0.966);transform-origin:0 0;">urze</div>
<div class="t" style="left:186.0px;top:174.8px;font-family:'Liberation Mono';font-size:12.5px;font-weight:400;font-style:normal;color:#d64a4a;letter-spacing:0.00px;transform:scaleX(0.932);transform-origin:0 0;">9)</div>
<div class="t" style="left:62.0px;top:188.8px;font-family:'Liberation Mono';font-size:12.5px;font-weight:400;font-style:normal;color:#2c2f36;letter-spacing:-0.00px;transform:scaleX(1.033);transform-origin:0 0;">pdwacint</div>
<div class="t" style="left:128.0px;top:188.8px;font-family:'Liberation Mono';font-size:12.5px;font-weight:400;font-style:normal;color:#2c2f36;letter-spacing:0.00px;transform:scaleX(1.200);transform-origin:0 0;">&lt;.pzc</div>
<div class="t" style="left:182.0px;top:188.8px;font-family:'Liberation Mono';font-size:12.5px;font-weight:400;font-style:normal;color:#50555e;letter-spacing:0.00px;transform:scaleX(1.163);transform-origin:0 0;">entcR1in&gt; ≈</div>
<div class="t" style="left:283.0px;top:188.8px;font-family:'Liberation Mono';font-size:12.5px;font-weight:700;font-style:normal;color:#8a44d0;letter-spacing:0.00px;transform:scaleX(1.079);transform-origin:0 0;">hekexee-t71</div>
<div class="t" style="left:381.0px;top:188.8px;font-family:'Liberation Mono';font-size:12.5px;font-weight:400;font-style:normal;color:#50555e;letter-spacing:0.00px;transform:scaleX(1.155);transform-origin:0 0;">andkieche));</div>
<div class="t" style="left:75.0px;top:204.8px;font-family:'Liberation Mono';font-size:12.5px;font-weight:400;font-style:normal;color:#d64a4a;letter-spacing:0.00px;transform:scaleX(1.079);transform-origin:0 0;">pasting ¬ot tc¬ano));</div>
<div class="t" style="left:105.0px;top:223.8px;font-family:'Liberation Mono';font-size:12.5px;font-weight:400;font-style:normal;color:#3d5a98;letter-spacing:0.00px;transform:scaleX(1.150);transform-origin:0 0;">095RSop7</div>
<div class="t" style="left:183.0px;top:223.8px;font-family:'Liberation Mono';font-size:12.5px;font-weight:400;font-style:normal;color:#50555e;letter-spacing:0.00px;transform:scaleX(1.086);transform-origin:0 0;">ttis1s▾ ten meketa s▾tid jnnon (Lez&#x27;tor k9t.iezatsegs))</div>
<div class="t" style="left:105.0px;top:240.2px;font-family:'Liberation Mono';font-size:12.5px;font-weight:400;font-style:normal;color:#3d5a98;letter-spacing:0.00px;transform:scaleX(0.914);transform-origin:0 0;">Noteits</div>
<div class="t" style="left:163.0px;top:240.2px;font-family:'Liberation Mono';font-size:12.5px;font-weight:400;font-style:normal;color:#2c2f36;letter-spacing:0.00px;transform:scaleX(1.089);transform-origin:0 0;">psed. zu8glg @=sguislogtt&lt;r&#x27;=&#x27;</div>
<div class="t" style="left:409.0px;top:240.2px;font-family:'Liberation Mono';font-size:12.5px;font-weight:400;font-style:normal;color:#d64a4a;letter-spacing:0.00px;">se</div>
<div class="t" style="left:426.0px;top:240.2px;font-family:'Liberation Mono';font-size:12.5px;font-weight:400;font-style:normal;color:#2c2f36;letter-spacing:0.00px;transform:scaleX(1.066);transform-origin:0 0;">);</div>
<div class="t" style="left:105.0px;top:256.2px;font-family:'Liberation Mono';font-size:12.5px;font-weight:400;font-style:normal;color:#1e2128;letter-spacing:0.00px;transform:scaleX(1.066);transform-origin:0 0;">Netmkr</div>
<div class="t" style="left:163.0px;top:256.2px;font-family:'Liberation Mono';font-size:12.5px;font-weight:400;font-style:normal;color:#2c2f36;letter-spacing:-0.00px;transform:scaleX(1.107);transform-origin:0 0;">cersemaa(cset@(1r_21(()</div>
<div class="t" style="left:105.0px;top:273.2px;font-family:'Liberation Mono';font-size:12.5px;font-weight:400;font-style:normal;color:#1e2128;letter-spacing:0.00px;transform:scaleX(1.052);transform-origin:0 0;">Netmllast</div>
<div class="t" style="left:185.0px;top:273.2px;font-family:'Liberation Mono';font-size:12.5px;font-weight:400;font-style:normal;color:#2c2f36;letter-spacing:0.00px;transform:scaleX(0.952);transform-origin:0 0;">pban.((</div>
<div class="t" style="left:240.0px;top:273.2px;font-family:'Liberation Mono';font-size:12.5px;font-weight:400;font-style:normal;color:#50555e;letter-spacing:0.00px;transform:scaleX(0.989);transform-origin:0 0;">≡.c5&quot;dda&quot;2  2  esatt&#x27;));</div>
<div class="t" style="left:105.0px;top:289.8px;font-family:'Liberation Mono';font-size:12.5px;font-weight:400;font-style:normal;color:#3d5a98;letter-spacing:0.00px;transform:scaleX(1.066);transform-origin:0 0;">Netads</div>
<div class="t" style="left:163.0px;top:289.8px;font-family:'Liberation Mono';font-size:12.5px;font-weight:700;font-style:normal;color:#2c2f36;letter-spacing:0.00px;transform:scaleX(1.097);transform-origin:0 0;">cos4zgb2bagat</div>
<div class="t" style="left:275.0px;top:289.8px;font-family:'Liberation Mono';font-size:12.5px;font-weight:400;font-style:normal;color:#50555e;letter-spacing:0.00px;transform:scaleX(1.154);transform-origin:0 0;">canfZ.Fodlotat ≈ tuwe atee wobtEaage1b())</div>
<div class="t" style="left:105.0px;top:306.8px;font-family:'Liberation Mono';font-size:12.5px;font-weight:700;font-style:normal;color:#7a3a30;letter-spacing:0.00px;transform:scaleX(1.143);transform-origin:0 0;">Dazetee</div>
<div class="t" style="left:171.0px;top:306.8px;font-family:'Liberation Mono';font-size:12.5px;font-weight:400;font-style:normal;color:#50555e;letter-spacing:-5.38px;transform:scaleX(0.850);transform-origin:0 0;">&quot;_.</div>
<div class="t" style="left:186.0px;top:306.8px;font-family:'Liberation Mono';font-size:12.5px;font-weight:400;font-style:normal;color:#d64a4a;letter-spacing:0.00px;transform:scaleX(1.099);transform-origin:0 0;">sgee</div>
<div class="t" style="left:221.0px;top:306.8px;font-family:'Liberation Mono';font-size:12.5px;font-weight:400;font-style:normal;color:#2c2f36;letter-spacing:0.00px;">))</div>
<div class="t" style="left:63.0px;top:317.8px;font-family:'Liberation Mono';font-size:12.5px;font-weight:700;font-style:normal;color:#2c2f36;letter-spacing:0.00px;transform:scaleX(1.066);transform-origin:0 0;">pezd(</div>
<div class="t" style="left:105.0px;top:332.8px;font-family:'Liberation Mono';font-size:12.5px;font-weight:400;font-style:normal;color:#4a68b8;letter-spacing:0.00px;transform:scaleX(1.200);transform-origin:0 0;">sete2bosdbe</div>
<div class="t" style="left:212.0px;top:332.8px;font-family:'Liberation Mono';font-size:12.5px;font-weight:400;font-style:normal;color:#50555e;letter-spacing:0.00px;transform:scaleX(1.137);transform-origin:0 0;">papsesioue ≡ on pers nq zaad uae the skelaes&#x27;);</div>
<div class="t" style="left:139.0px;top:348.8px;font-family:'Liberation Mono';font-size:12.5px;font-weight:400;font-style:normal;color:#eef0f4;letter-spacing:0.00px;transform:scaleX(0.992);transform-origin:0 0;">(-4P1ilE.</div>
<div class="t" style="left:218.0px;top:348.8px;font-family:'Liberation Mono';font-size:12.5px;font-weight:400;font-style:normal;color:#eef0f4;letter-spacing:0.00px;transform:scaleX(1.244);transform-origin:0 0;">sad</div>
<div class="t" style="left:258.0px;top:348.8px;font-family:'Liberation Mono';font-size:12.5px;font-weight:400;font-style:normal;color:#eef0f4;letter-spacing:-0.00px;transform:scaleX(1.253);transform-origin:0 0;">sddi_</div>
<div class="t" style="left:315.0px;top:348.8px;font-family:'Liberation Mono';font-size:12.5px;font-weight:400;font-style:normal;color:#eef0f4;letter-spacing:0.00px;transform:scaleX(0.953);transform-origin:0 0;">Bofdtis. ¬Htl, ket&#x27;ue. -4r2</div>
<div class="t" style="left:510.0px;top:348.8px;font-family:'Liberation Mono';font-size:12.5px;font-weight:400;font-style:normal;color:#e8a050;letter-spacing:0.00px;transform:scaleX(1.199);transform-origin:0 0;">l.a8</div>
<div class="t" style="left:548.0px;top:348.8px;font-family:'Liberation Mono';font-size:12.5px;font-weight:400;font-style:normal;color:#eef0f4;letter-spacing:0.00px;transform:scaleX(1.066);transform-origin:0 0;">))</div>
<div class="t" style="left:105.0px;top:384.4px;font-family:'Liberation Mono';font-size:12.5px;font-weight:400;font-style:normal;color:#3550c0;letter-spacing:0.44px;transform:scaleX(1.300);transform-origin:0 0;">Netdlike</div>
<div class="t" style="left:193.0px;top:384.4px;font-family:'Liberation Mono';font-size:12.5px;font-weight:400;font-style:normal;color:#2c2f36;letter-spacing:0.00px;">-&gt;</div>
<div class="t" style="left:216.0px;top:384.4px;font-family:'Liberation Mono';font-size:12.5px;font-weight:700;font-style:normal;color:#2a4a9a;letter-spacing:0.00px;transform:scaleX(1.066);transform-origin:0 0;">ftta</div>
<div class="t" style="left:258.0px;top:384.4px;font-family:'Liberation Mono';font-size:12.5px;font-weight:400;font-style:normal;color:#50555e;letter-spacing:0.00px;transform:scaleX(1.137);transform-origin:0 0;">naestens( = sa4e&#x27;))</div>
<div class="t" style="left:105.0px;top:399.9px;font-family:'Liberation Mono';font-size:12.5px;font-weight:400;font-style:normal;color:#4a4030;letter-spacing:0.00px;transform:scaleX(1.177);transform-origin:0 0;">pgtsto</div>
<div class="t" style="left:158.0px;top:399.9px;font-family:'Liberation Mono';font-size:12.5px;font-weight:400;font-style:normal;color:#c8703a;letter-spacing:-3.25px;transform:scaleX(0.850);transform-origin:0 0;">@)</div>
<div class="t" style="left:127.0px;top:413.9px;font-family:'Liberation Mono';font-size:12.5px;font-weight:400;font-style:normal;color:#3c55b8;letter-spacing:-0.20px;transform:scaleX(0.850);transform-origin:0 0;">nad&#x27;</div>
<div class="t" style="left:163.0px;top:413.9px;font-family:'Liberation Mono';font-size:12.5px;font-weight:700;font-style:normal;color:#3c55b8;letter-spacing:0.00px;transform:scaleX(1.033);transform-origin:0 0;">Sddk</div>
<div class="t" style="left:199.0px;top:413.9px;font-family:'Liberation Mono';font-size:12.5px;font-weight:700;font-style:normal;color:#2c2f36;letter-spacing:0.00px;transform:scaleX(1.155);transform-origin:0 0;">cotpa((-≡</div>
<div class="t" style="left:282.0px;top:413.9px;font-family:'Liberation Mono';font-size:12.5px;font-weight:400;font-style:normal;color:#c8703a;letter-spacing:0.00px;">se</div>
<div class="t" style="left:299.0px;top:413.9px;font-family:'Liberation Mono';font-size:12.5px;font-weight:400;font-style:normal;color:#2c2f36;letter-spacing:0.00px;transform:scaleX(0.932);transform-origin:0 0;">))</div>
<div class="t" style="left:127.0px;top:429.9px;font-family:'Liberation Mono';font-size:12.5px;font-weight:400;font-style:normal;color:#3c55b8;letter-spacing:0.00px;transform:scaleX(1.126);transform-origin:0 0;">aaol=Iaj)</div>
<div class="t" style="left:123.0px;top:445.9px;font-family:'Liberation Mono';font-size:12.5px;font-weight:400;font-style:normal;color:#4a3a30;letter-spacing:0.00px;transform:scaleX(1.276);transform-origin:0 0;">oaB&gt;zoe</div>
<div class="t" style="left:200.0px;top:445.9px;font-family:'Liberation Mono';font-size:12.5px;font-weight:400;font-style:normal;color:#2c2f36;letter-spacing:-1.26px;transform:scaleX(0.850);transform-origin:0 0;">= }</div>
<div class="t" style="left:97.0px;top:463.9px;font-family:'Liberation Mono';font-size:12.5px;font-weight:400;font-style:normal;color:#3c55b8;letter-spacing:0.00px;transform:scaleX(1.040);transform-origin:0 0;">eadi2</div>
<div class="t" style="left:136.0px;top:463.9px;font-family:'Liberation Mono';font-size:12.5px;font-weight:400;font-style:normal;color:#50555e;letter-spacing:0.00px;transform:scaleX(1.200);transform-origin:0 0;">?\2//(</div>
<div class="t" style="left:190.0px;top:463.9px;font-family:'Liberation Mono';font-size:12.5px;font-weight:400;font-style:normal;color:#2c2f36;letter-spacing:0.00px;transform:scaleX(1.146);transform-origin:0 0;">Deass ta(=1-9Pdbs€)}</div>
<div class="t" style="left:105.0px;top:479.9px;font-family:'Liberation Mono';font-size:12.5px;font-weight:400;font-style:normal;color:#34426e;letter-spacing:0.00px;transform:scaleX(0.893);transform-origin:0 0;">Westrure&#x27;e</div>
<div class="t" style="left:181.0px;top:479.9px;font-family:'Liberation Mono';font-size:12.5px;font-weight:400;font-style:normal;color:#50555e;letter-spacing:0.00px;transform:scaleX(1.090);transform-origin:0 0;">≡ aaixt ac vds82 d·f naue/oul&lt; #G8ing())</div>
<div class="t" style="left:105.0px;top:496.9px;font-family:'Liberation Mono';font-size:12.5px;font-weight:400;font-style:normal;color:#3a4260;letter-spacing:0.00px;transform:scaleX(1.143);transform-origin:0 0;">Neswtare=((putaxs z&#x27;≡</div>
<div class="t" style="left:290.0px;top:497.7px;font-family:'Liberation Mono';font-size:11px;font-weight:700;font-style:normal;color:#f3d6cc;letter-spacing:0.00px;transform:scaleX(1.212);transform-origin:0 0;">Bow8</div>
<div class="t" style="left:329.0px;top:496.9px;font-family:'Liberation Mono';font-size:12.5px;font-weight:400;font-style:normal;color:#50555e;letter-spacing:0.00px;transform:scaleX(0.973);transform-origin:0 0;">; $184 ds zrtod, 15 papt!= S&#x27; saa&amp;]))</div>
<div class="t" style="left:105.0px;top:513.0px;font-family:'Liberation Mono';font-size:12.5px;font-weight:400;font-style:normal;color:#34426e;letter-spacing:0.00px;transform:scaleX(1.155);transform-origin:0 0;">Wossie</div>
<div class="t" style="left:165.0px;top:513.0px;font-family:'Liberation Mono';font-size:12.5px;font-weight:400;font-style:normal;color:#50555e;letter-spacing:0.00px;transform:scaleX(1.111);transform-origin:0 0;">≡ zexpeudc√(va!T.7!E: Sotfersh1 29fkeuse = cehfz_kartuoap&#x27;))</div>
<div class="t" style="left:105.0px;top:529.0px;font-family:'Liberation Mono';font-size:12.5px;font-weight:400;font-style:normal;color:#2c2f36;letter-spacing:0.00px;transform:scaleX(0.900);transform-origin:0 0;">tietgike</div>
<div class="t" style="left:165.0px;top:529.0px;font-family:'Liberation Mono';font-size:12.5px;font-weight:400;font-style:normal;color:#2c2f36;letter-spacing:0.00px;">≤</div>
<div class="t" style="left:182.0px;top:529.0px;font-family:'Liberation Mono';font-size:12.5px;font-weight:400;font-style:normal;color:#c8703a;letter-spacing:0.00px;transform:scaleX(0.932);transform-origin:0 0;">56</div>
<div class="t" style="left:198.0px;top:529.0px;font-family:'Liberation Mono';font-size:12.5px;font-weight:400;font-style:normal;color:#2c2f36;letter-spacing:0.00px;">))</div>
<div class="t" style="left:96.0px;top:545.5px;font-family:'Liberation Mono';font-size:12.5px;font-weight:400;font-style:normal;color:#3a4a6a;letter-spacing:0.00px;transform:scaleX(0.866);transform-origin:0 0;">coati&#x27;</div>
<div class="t" style="left:143.0px;top:545.5px;font-family:'Liberation Mono';font-size:12.5px;font-weight:400;font-style:normal;color:#2c2f36;letter-spacing:0.00px;">≥</div>
<div class="t" style="left:162.0px;top:545.5px;font-family:'Liberation Mono';font-size:12.5px;font-weight:400;font-style:normal;color:#50555e;letter-spacing:-0.49px;transform:scaleX(0.850);transform-origin:0 0;">:RBarf[EA!</div>
<div class="t" style="left:230.0px;top:545.5px;font-family:'Liberation Mono';font-size:12.5px;font-weight:400;font-style:normal;color:#2c2f36;letter-spacing:0.00px;">;</div>
<div class="t" style="left:73.0px;top:565.5px;font-family:'Liberation Mono';font-size:12.5px;font-weight:400;font-style:normal;color:#4a60b0;letter-spacing:0.00px;transform:scaleX(0.960);transform-origin:0 0;">prait</div>
<div class="t" style="left:109.0px;top:565.5px;font-family:'Liberation Mono';font-size:12.5px;font-weight:400;font-style:normal;color:#50555e;letter-spacing:0.00px;transform:scaleX(0.888);transform-origin:0 0;">1P8</div>
<div class="t" style="left:134.0px;top:565.5px;font-family:'Liberation Mono';font-size:12.5px;font-weight:400;font-style:normal;color:#2c2f36;letter-spacing:0.00px;">;</div>
<div class="t" style="left:111.0px;top:580.0px;font-family:'Liberation Mono';font-size:12.5px;font-weight:400;font-style:normal;color:#2c2f36;letter-spacing:0.00px;">!</div>
<div class="t" style="left:110.0px;top:597.5px;font-family:'Liberation Mono';font-size:12.5px;font-weight:400;font-style:normal;color:#2c2f36;letter-spacing:0.00px;">}</div>
<div class="t" style="left:73.0px;top:636.0px;font-family:'Liberation Mono';font-size:12.5px;font-weight:400;font-style:normal;color:#2c2f36;letter-spacing:0.00px;">}</div>
<div class="t" style="left:84.0px;top:677.0px;font-family:'Liberation Mono';font-size:12.5px;font-weight:400;font-style:normal;color:#2c2f36;letter-spacing:0.00px;">}</div>
<div class="t" style="left:66.0px;top:698.5px;font-family:'Liberation Mono';font-size:12.5px;font-weight:400;font-style:normal;color:#2c2f36;letter-spacing:0.00px;">}</div>
<div class="t" style="left:44.0px;top:723.0px;font-family:'Liberation Mono';font-size:12.5px;font-weight:400;font-style:normal;color:#2c2f36;letter-spacing:0.00px;">}</div>
<div class="t" style="left:106.0px;top:656.5px;font-family:'Liberation Mono';font-size:12.5px;font-weight:400;font-style:normal;color:#2c2f36;letter-spacing:0.00px;">(</div>
<div class="t" style="left:114.0px;top:654.5px;font-family:'Liberation Sans';font-size:14px;font-weight:700;font-style:normal;color:#3a55c0;letter-spacing:0.00px;transform:scaleX(1.008);transform-origin:0 0;">Behidie</div>
<div class="t" style="left:171.0px;top:656.5px;font-family:'Liberation Mono';font-size:12.5px;font-weight:400;font-style:normal;color:#50555e;letter-spacing:0.00px;">=</div>
<div class="t" style="left:182.0px;top:656.5px;font-family:'Liberation Mono';font-size:12.5px;font-weight:400;font-style:normal;color:#3a55c0;letter-spacing:0.00px;transform:scaleX(0.990);transform-origin:0 0;">s.Tet:to//Sen=</div>
<div class="t" style="left:293.0px;top:656.5px;font-family:'Liberation Mono';font-size:12.5px;font-weight:400;font-style:normal;color:#50555e;letter-spacing:0.00px;">=</div>
<div class="t" style="left:308.0px;top:656.5px;font-family:'Liberation Mono';font-size:12.5px;font-weight:400;font-style:normal;color:#c050d0;letter-spacing:0.00px;">/</div>
<div class="t" style="left:314.0px;top:656.5px;font-family:'Liberation Mono';font-size:12.5px;font-weight:400;font-style:normal;color:#50555e;letter-spacing:0.00px;transform:scaleX(1.040);transform-origin:0 0;">apiolse nutoen&#x27;/&#x27;));</div>
</body></html>
